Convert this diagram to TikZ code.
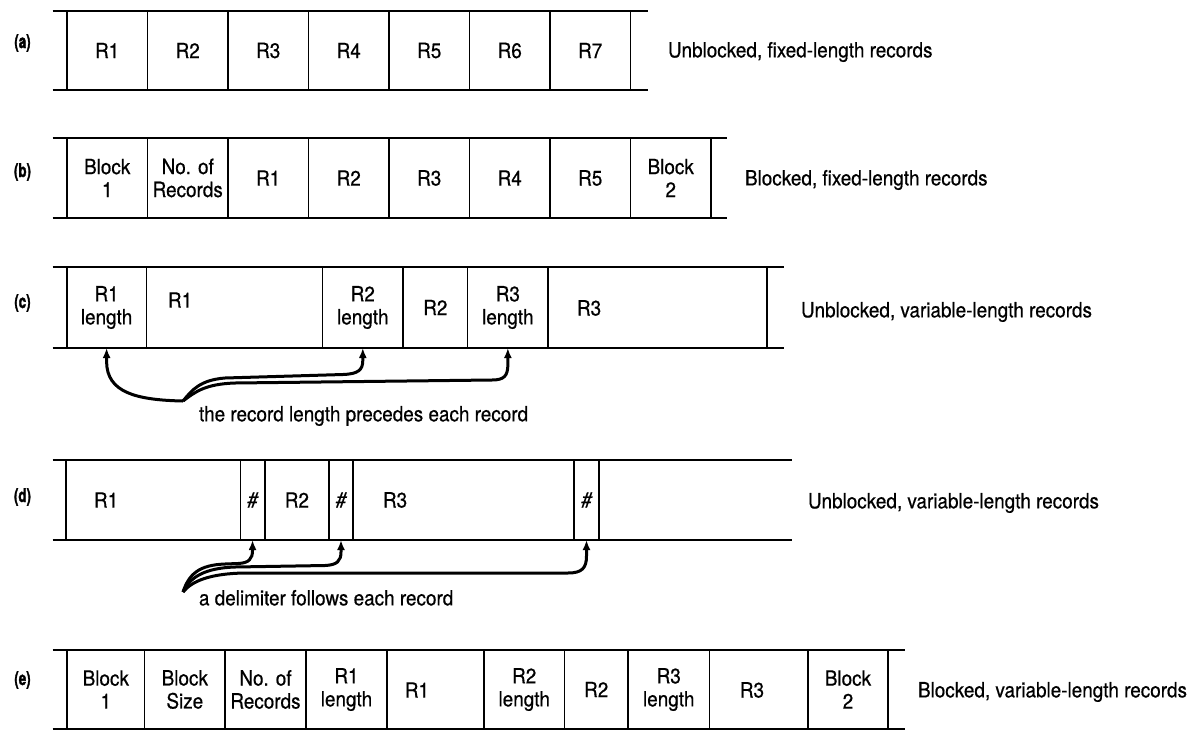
\documentclass[tikz,border=0pt]{standalone}
\usepackage{fontspec}
\setmainfont{TeX Gyre Heros}[FakeStretch=0.9, FakeBold=0.6]
\newfontfamily\labfont{TeX Gyre Heros}[FakeStretch=0.7, BoldFeatures={FakeBold=1.6}]
\usetikzlibrary{arrows.meta}
\newcommand\celltxt{\fontsize{21}{23}\selectfont}
\newcommand\labtxt{\fontsize{19}{19}\selectfont\labfont\bfseries}
\newcommand\mkcell[6]{%
  \node[cell, minimum width=#3pt-#2pt, minimum height=#5pt-#4pt] (#1) at ({(#2+#3)/2},{(#4+#5)/2}) {#6};
  \draw[vrule] (#1.north west) -- (#1.south west);
}
\begin{document}
\begin{tikzpicture}[x=1pt,y=-1pt,
  every node/.style={inner sep=0pt, outer sep=0pt},
  cell/.style={align=center, font=\celltxt},
  txt/.style={font=\celltxt},
  rowlab/.style={font=\labtxt},
  desc/.style={font=\celltxt, anchor=west},
  hrule/.style={line width=1.9pt},
  vrule/.style={line width=1.4pt},
  ptr/.style={line width=3pt, -{Latex[length=10pt,width=8pt]}}
]
\useasboundingbox (0,0) rectangle (1199,731);

% ---------------- row (a)
\node[rowlab] (la) at (22.5,43) {(a)};
\mkcell{a1}{67}{147.5}{11}{90}{R1}
\mkcell{a2}{147.5}{228}{11}{90}{R2}
\mkcell{a3}{228}{308.5}{11}{90}{R3}
\mkcell{a4}{308.5}{389}{11}{90}{R4}
\mkcell{a5}{389}{469.5}{11}{90}{R5}
\mkcell{a6}{469.5}{550}{11}{90}{R6}
\mkcell{a7}{550}{630.5}{11}{90}{R7}
\draw[vrule] (a7.north east) -- (a7.south east);
\draw[hrule] (52.5,11) -- (648,11);
\draw[hrule] (52.5,90) -- (648,90);
\node[desc] (da) at (668,52) {Unblocked, fixed-length records};

% ---------------- row (b)
\node[rowlab] (lb) at (22.5,172) {(b)};
\mkcell{b1}{67}{147.5}{138}{218}{Block\\1}
\mkcell{b2}{147.5}{228}{138}{218}{No. of\\Records}
\mkcell{b3}{228}{308.5}{138}{218}{R1}
\mkcell{b4}{308.5}{389}{138}{218}{R2}
\mkcell{b5}{389}{469.5}{138}{218}{R3}
\mkcell{b6}{469.5}{550}{138}{218}{R4}
\mkcell{b7}{550}{630.5}{138}{218}{R5}
\mkcell{b8}{630.5}{711}{138}{218}{Block\\2}
\draw[vrule] (b8.north east) -- (b8.south east);
\draw[hrule] (52.5,138) -- (727,138);
\draw[hrule] (52.5,218) -- (727,218);
\node[desc] (db) at (745,180) {Blocked, fixed-length records};

% ---------------- row (c)
\node[rowlab] (lc) at (22.5,303) {(c)};
\mkcell{c1}{67}{146.2}{267}{348}{R1\\length}
\mkcell{c2}{146.2}{322.6}{267}{348}{}
\mkcell{c3}{322.6}{403}{267}{348}{R2\\length}
\mkcell{c4}{403}{467.7}{267}{348}{R2}
\mkcell{c5}{467.7}{548}{267}{348}{R3\\length}
\mkcell{c6}{548}{767}{267}{348}{}
\draw[vrule] (c6.north east) -- (c6.south east);
\draw[hrule] (52.5,267) -- (784,267);
\draw[hrule] (52.5,348) -- (784,348);
\node[txt, anchor=west] (c2t) at (168,300) {R1};
\node[txt, anchor=west] (c6t) at (577,308) {R3};
\node[desc] (dc) at (801,312) {Unblocked, variable-length records};

\coordinate (cFan) at (183,401);
\draw[ptr] (cFan) .. controls (135,400) and (107,392) .. ([yshift=-14pt]c1.south) -- (c1.south);
\draw[ptr] (cFan) .. controls (192,390) and (200,380) .. (225,378) -- (343,374.5)
  .. controls (358,374) and (363,370) .. ([yshift=-12pt]c3.south) -- (c3.south);
\draw[ptr] (cFan) .. controls (195,392) and (205,384) .. (235,383) -- (492,380)
  .. controls (504,380) and (508,376) .. ([yshift=-16pt]c5.south) -- (c5.south);
\node[txt, anchor=north west] (cLab) at (199,406) {the record length precedes each record};

% ---------------- row (d)
\node[rowlab] (ld) at (22.5,497) {(d)};
\mkcell{d1}{66}{240.3}{460}{540}{}
\mkcell{d2}{240.3}{264.8}{460}{540}{\itshape\#}
\mkcell{d3}{264.8}{329}{460}{540}{R2}
\mkcell{d4}{329}{353}{460}{540}{\itshape\#}
\mkcell{d5}{353}{574}{460}{540}{}
\mkcell{d6}{574}{599}{460}{540}{\itshape\#}
\draw[vrule] (d6.north east) -- (d6.south east);
\draw[hrule] (52.5,460) -- (792,460);
\draw[hrule] (52.5,540) -- (792,540);
\node[txt, anchor=west] (d1t) at (94,500) {R1};
\node[txt, anchor=west] (d5t) at (383,500) {R3};
\node[desc] (dd) at (808,503) {Unblocked, variable-length records};

\coordinate (dFan) at (183,592);
\draw[ptr] (dFan) .. controls (189,574) and (199,565) .. (225,564) -- (238,563.5)
  .. controls (249,563) and (252.5,559) .. ([yshift=-10pt]d2.south) -- (d2.south);
\draw[ptr] (dFan) .. controls (190,577) and (205,568) .. (235,567) -- (325,565.5)
  .. controls (337,565) and (341,561) .. ([yshift=-12pt]d4.south) -- (d4.south);
\draw[ptr] (dFan) .. controls (192,581) and (210,573.5) .. (245,573) -- (568,573)
  .. controls (582,573) and (586.5,568) .. ([yshift=-16pt]d6.south) -- (d6.south);
\node[txt, anchor=north west] (dLab) at (199,590) {a delimiter follows each record};

% ---------------- row (e)
\node[rowlab] (le) at (22.5,680) {(e)};
\mkcell{e1}{67}{144.7}{650}{729}{Block\\1}
\mkcell{e2}{144.7}{225}{650}{729}{Block\\Size}
\mkcell{e3}{225}{306}{650}{729}{No. of\\Records}
\mkcell{e4}{306}{387}{650}{729}{R1\\length}
\mkcell{e5}{387}{484}{650}{729}{}
\mkcell{e6}{484}{564.5}{650}{729}{R2\\length}
\mkcell{e7}{564.5}{628}{650}{729}{R2}
\mkcell{e8}{628}{709.5}{650}{729}{R3\\length}
\mkcell{e9}{709.5}{808}{650}{729}{}
\mkcell{e10}{808}{888}{650}{729}{Block\\2}
\draw[vrule] (e10.north east) -- (e10.south east);
\draw[hrule] (52.5,650) -- (904.5,650);
\draw[hrule] (52.5,729) -- (904.5,729);
\node[txt] (e5t) at (417,690) {R1};
\node[txt] (e9t) at (752,690) {R3};
\node[desc] (de) at (918,692) {Blocked, variable-length records};
\end{tikzpicture}
\end{document}
